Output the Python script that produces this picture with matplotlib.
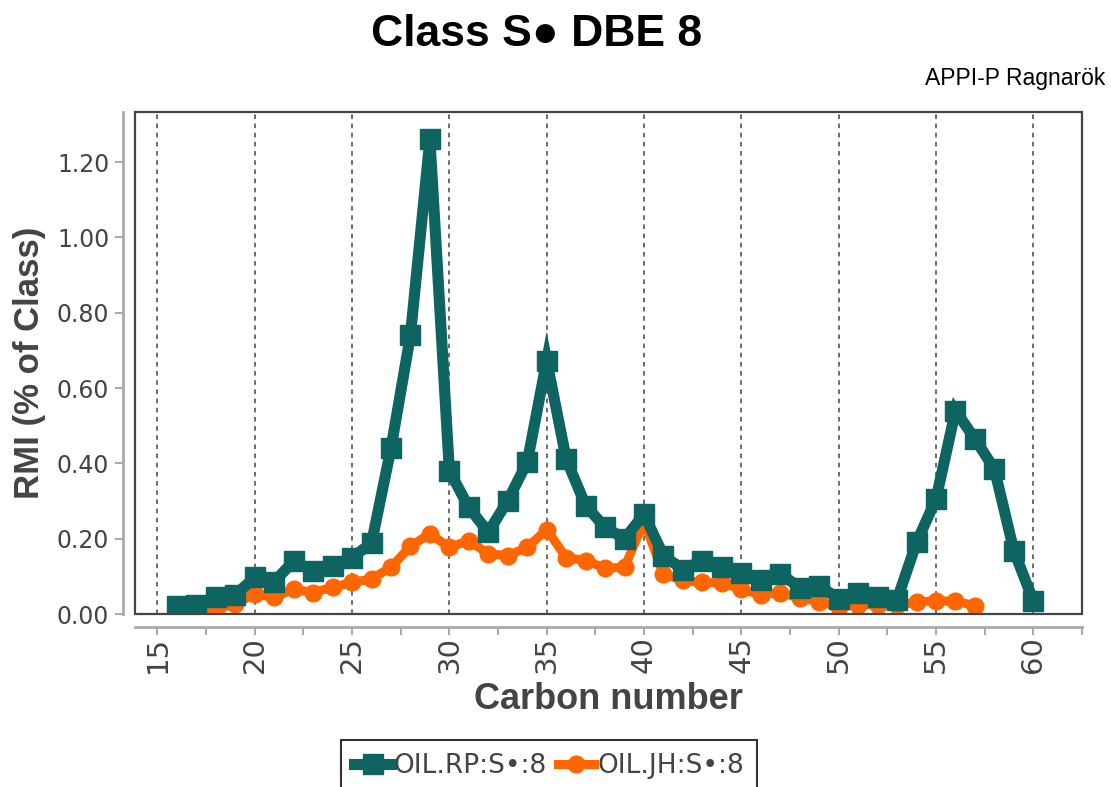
import matplotlib
matplotlib.use("Agg")
import matplotlib.pyplot as plt
from matplotlib.patches import Rectangle
from matplotlib.lines import Line2D

# Carbon number distributions (RMI, % of class)
carbon_rp = list(range(16, 61))
rmi_rp = [0.022, 0.025, 0.044, 0.051, 0.097, 0.086, 0.140, 0.115, 0.128, 0.150,
          0.188, 0.44, 0.74, 1.26, 0.38, 0.283, 0.217, 0.301, 0.403, 0.673,
          0.412, 0.288, 0.23, 0.20, 0.265, 0.155, 0.118, 0.142, 0.126, 0.109,
          0.089, 0.107, 0.070, 0.075, 0.040, 0.056, 0.046, 0.038, 0.19, 0.305,
          0.54, 0.465, 0.385, 0.168, 0.035]

carbon_jh = list(range(16, 58))
rmi_jh = [0.005, 0.008, 0.013, 0.027, 0.053, 0.044, 0.066, 0.057, 0.071, 0.084,
          0.093, 0.124, 0.18, 0.213, 0.177, 0.195, 0.16, 0.155, 0.177, 0.224,
          0.15, 0.142, 0.122, 0.124, 0.245, 0.106, 0.089, 0.084, 0.082, 0.066,
          0.051, 0.057, 0.042, 0.033, 0.018, 0.025, 0.025, 0.023, 0.032, 0.035,
          0.034, 0.022]

label_rp = "OIL.RP:S\u2022:8"
label_jh = "OIL.JH:S\u2022:8"
teal = "#0d6461"
orange = "#ff6600"

fig = plt.figure(figsize=(11.11, 7.87), dpi=100)
ax = fig.add_axes([135 / 1111, 1 - 614 / 787, (1082 - 135) / 1111, (614 - 112) / 787])

# series
ax.plot(carbon_jh, rmi_jh, color=orange, lw=6.5, marker="o", ms=12,
        solid_joinstyle="miter", zorder=3)
ax.plot(carbon_rp, rmi_rp, color=teal, lw=8, marker="s", ms=14,
        solid_joinstyle="miter", zorder=4)

ax.set_xlim(13.85, 62.25)
ax.set_ylim(0, 1.333)

# vertical dashed grid
for c in range(15, 61, 5):
    ax.axvline(c, color="#444444", lw=1.1, ls=(0, (3, 3)), zorder=1)

# frame
ax.add_patch(Rectangle((0, 0), 1, 1, transform=ax.transAxes, fill=False,
                       ec="#444444", lw=1.6, zorder=5, clip_on=False))

# offset axis lines
for side in ["top", "right"]:
    ax.spines[side].set_visible(False)
for side in ["left", "bottom"]:
    ax.spines[side].set_position(("outward", 9))
    ax.spines[side].set_color("#aaaaaa")
    ax.spines[side].set_linewidth(2)

ax.set_xticks(range(15, 61, 5))
ax.set_xticks([15 + 2.5 * i for i in range(0, 20, 1)], minor=True)
ax.set_yticks([0, 0.2, 0.4, 0.6, 0.8, 1.0, 1.2])
ax.set_yticklabels(["0.00", "0.20", "0.40", "0.60", "0.80", "1.00", "1.20"])
ax.tick_params(axis="both", which="both", color="#999999", width=1.2, length=6,
               labelcolor="#444444")
ax.tick_params(axis="y", labelsize=17)
ax.tick_params(axis="x", which="major", labelrotation=90, labelsize=21, pad=1)
ax.tick_params(axis="x", which="minor", length=6)
for lab in ax.get_xticklabels() + ax.get_yticklabels():
    lab.set_family("DejaVu Sans")

ax.set_xlabel("Carbon number", fontsize=26, fontweight="bold", color="#444444",
              family="Liberation Sans", labelpad=6)
ax.set_ylabel("RMI (% of Class)", fontsize=25, fontweight="bold", color="#444444",
              family="Liberation Sans", labelpad=8)

fig.text(537 / 1111, 1 - 35 / 787, "Class S\u25cf DBE 8", ha="center", va="center",
         fontsize=32, fontweight="bold", family="Liberation Sans", color="black")
fig.text(1105 / 1111, 1 - 78 / 787, "APPI-P Ragnar\u00f6k", ha="right", va="center",
         fontsize=16.5, family="Liberation Sans", color="black")

handles = [Line2D([], [], color=teal, lw=8, marker="s", ms=14),
           Line2D([], [], color=orange, lw=6.5, marker="o", ms=12)]
leg = fig.legend(handles, [label_rp, label_jh], loc="upper center",
                 bbox_to_anchor=(549 / 1111, 1 - 740 / 787), ncol=2,
                 frameon=True, fancybox=False, handlelength=1.4,
                 handletextpad=0.1, columnspacing=0.4, borderpad=0.5,
                 borderaxespad=0, prop={"family": "DejaVu Sans", "size": 19})
leg.get_frame().set_edgecolor("black")
leg.get_frame().set_linewidth(1.5)
for t in leg.get_texts():
    t.set_color("#444444")

fig.savefig("out.png", dpi=100)
